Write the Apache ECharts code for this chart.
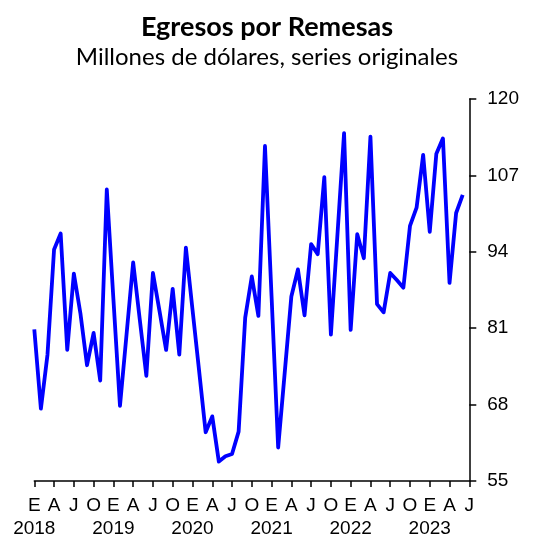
<!DOCTYPE html>
<html>
<head>
<meta charset="utf-8">
<script src="https://cdn.jsdelivr.net/npm/echarts@6/dist/echarts.min.js"></script>
<style>
html,body{margin:0;padding:0;background:#fff;}
#chart{width:534px;height:538px;}
</style>
</head>
<body>
<div id="chart"></div>
<script>
// Months Jan 2018 .. Jul 2023 (axis), data Jan 2018 .. Jun 2023
var months = [];
for (var y = 2018; y <= 2023; y++) {
  for (var m = 1; m <= 12; m++) {
    if (y === 2023 && m > 7) break;
    months.push(y + '-' + (m < 10 ? '0' + m : '' + m));
  }
}
var monthLetters = {1: 'E', 4: 'A', 7: 'J', 10: 'O'};
var yTicks = [55, 68, 81, 94, 107, 120];

var egresos = [
  80.8, 67.3, 76.5, 94.4, 97.1, 77.3, 90.3, 83.5, 74.7, 80.2, 72.1, 104.6,
  86.0, 67.8, 80.0, 92.2, 82.5, 72.9, 90.4, 83.9, 77.3, 87.7, 76.5, 94.7,
  84.2, 73.8, 63.3, 66.0, 58.3, 59.2, 59.6, 63.4, 82.8, 89.8, 83.1, 112.0,
  86.4, 60.7, 73.5, 86.4, 91.0, 83.2, 95.3, 93.6, 106.7, 79.9, 97.0, 114.2,
  80.7, 97.0, 92.9, 113.6, 85.1, 83.7, 90.4, 89.2, 87.9, 98.4, 101.5, 110.5,
  97.4, 110.7, 113.3, 88.7, 100.6, 103.7
];

var chart = echarts.init(document.getElementById('chart'), null, {renderer: 'canvas'});
chart.setOption({
  animation: false,
  backgroundColor: '#ffffff',
  title: {
    text: 'Egresos por Remesas',
    subtext: 'Millones de dólares, series originales',
    left: 'center',
    top: 9,
    itemGap: 4,
    textStyle: {fontFamily: 'Lato', fontWeight: 'bold', fontSize: 27, color: '#000'},
    subtextStyle: {fontFamily: 'Lato', fontWeight: 'normal', fontSize: 24, color: '#000'}
  },
  grid: {left: 34.3, right: 64.7, top: 99, bottom: 56, containLabel: false},
  xAxis: [{
    type: 'category',
    data: months,
    boundaryGap: false,
    axisLine: {show: true, lineStyle: {color: '#000', width: 1.5}},
    axisTick: {show: true, interval: 2, length: 6, inside: false, lineStyle: {color: '#000', width: 1.5}},
    axisLabel: {
      interval: 2,
      showMinLabel: true,
      showMaxLabel: true,
      hideOverlap: false,
      margin: 15,
      fontFamily: 'Liberation Sans',
      fontSize: 19,
      color: '#000',
      formatter: function (v) {
        var mm = parseInt(v.split('-')[1], 10);
        return monthLetters[mm] || '';
      }
    },
    splitLine: {show: false}
  }, {
    type: 'category',
    data: months,
    position: 'bottom',
    boundaryGap: false,
    axisLine: {show: false},
    axisTick: {show: false},
    axisLabel: {
      interval: function (idx, v) { return v.split('-')[1] === '01'; },
      showMinLabel: true,
      hideOverlap: false,
      margin: 38,
      fontFamily: 'Liberation Sans',
      fontSize: 19,
      color: '#000',
      formatter: function (v) { return v.split('-')[0]; }
    },
    splitLine: {show: false}
  }],
  yAxis: {
    type: 'value',
    position: 'right',
    min: yTicks[0],
    max: yTicks[yTicks.length - 1],
    interval: 13,
    axisLine: {show: true, lineStyle: {color: '#000', width: 1.5}},
    axisTick: {show: true, length: 7, lineStyle: {color: '#000', width: 1.5}},
    axisLabel: {margin: 18, fontFamily: 'Liberation Sans', fontSize: 19, color: '#000'},
    splitLine: {show: false}
  },
  series: [{
    type: 'line',
    xAxisIndex: 0,
    data: egresos,
    showSymbol: false,
    symbol: 'none',
    lineStyle: {color: '#0000ff', width: 3.8, join: 'round'},
    itemStyle: {color: '#0000ff'}
  }]
});
</script>
</body>
</html>
